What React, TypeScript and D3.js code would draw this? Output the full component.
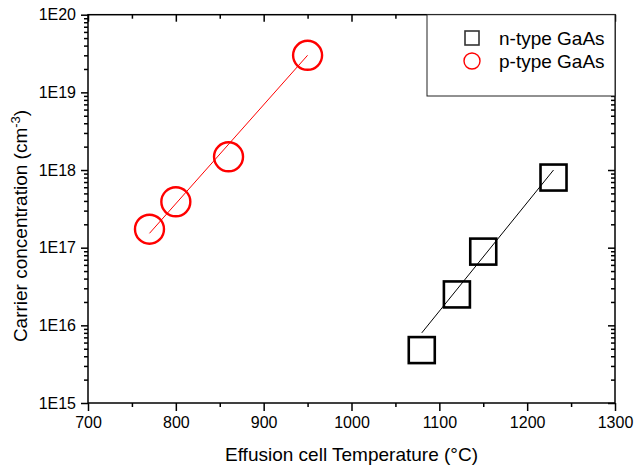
import React, { useRef, useEffect } from "react";
import * as d3 from "d3";

interface Point {
  t: number;
  c: number;
}

// readings from the picture
const nType: Point[] = [
  { t: 1080, c: 4.8e15 },
  { t: 1120, c: 2.5e16 },
  { t: 1150, c: 8.9e16 },
  { t: 1230, c: 8.0e17 },
];
const pType: Point[] = [
  { t: 770, c: 1.73e17 },
  { t: 800, c: 3.9e17 },
  { t: 860, c: 1.48e18 },
  { t: 950, c: 3.0e19 },
];
// end points of the linear fits
const nFit: Point[] = [
  { t: 1080, c: 8.0e15 },
  { t: 1230, c: 1.0e18 },
];
const pFit: Point[] = [
  { t: 770, c: 1.53e17 },
  { t: 950, c: 3.0e19 },
];

const xMajor = [700, 800, 900, 1000, 1100, 1200, 1300];
const xMinor = [750, 850, 950, 1050, 1150, 1250];
const yMajor = [1e15, 1e16, 1e17, 1e18, 1e19, 1e20];
const yLabels = ["1E15", "1E16", "1E17", "1E18", "1E19", "1E20"];
const legendNames = ["n-type GaAs", "p-type GaAs"];

const FONT = "'Liberation Sans', Arial, sans-serif";

export default function App() {
  const svgRef = useRef<SVGSVGElement>(null);
  const width = 635;
  const height = 467;
  const left = 88;
  const right = 615;
  const top = 14.7;
  const bottom = 403;

  useEffect(() => {
    const svg = d3.select(svgRef.current);
    svg.selectAll("*").remove();

    const x = d3.scaleLinear().domain([700, 1300]).range([left, right]);
    const y = d3.scaleLog().domain([1e15, 1e20]).range([bottom, top]);

    const yMinor: number[] = [];
    yMajor.slice(0, -1).forEach((d) => {
      for (let k = 2; k <= 9; k++) yMinor.push(d * k);
    });

    const styleAxis = (g: any) => {
      g.select(".domain").remove();
      g.selectAll(".tick line").attr("stroke", "#000").attr("stroke-width", 1.5);
      g.selectAll(".tick text")
        .attr("font-family", FONT)
        .attr("font-size", 16)
        .attr("fill", "#000");
    };

    // bottom
    svg.append("g")
      .attr("transform", `translate(0,${bottom})`)
      .call(d3.axisBottom(x).tickValues(xMajor).tickSize(8).tickPadding(6).tickFormat(d3.format("d")))
      .call(styleAxis);
    svg.append("g")
      .attr("transform", `translate(0,${bottom})`)
      .call(d3.axisBottom(x).tickValues(xMinor).tickSize(4).tickFormat(() => ""))
      .call(styleAxis);
    // top (inward)
    svg.append("g")
      .attr("transform", `translate(0,${top})`)
      .call(d3.axisTop(x).tickValues(xMajor).tickSize(-7).tickFormat(() => ""))
      .call(styleAxis);
    svg.append("g")
      .attr("transform", `translate(0,${top})`)
      .call(d3.axisTop(x).tickValues(xMinor).tickSize(-4).tickFormat(() => ""))
      .call(styleAxis);
    // left
    svg.append("g")
      .attr("transform", `translate(${left},0)`)
      .call(d3.axisLeft(y).tickValues(yMajor).tickSize(7).tickPadding(5)
        .tickFormat((d, i) => yLabels[i]))
      .call(styleAxis);
    svg.append("g")
      .attr("transform", `translate(${left},0)`)
      .call(d3.axisLeft(y).tickValues(yMinor).tickSize(4).tickFormat(() => ""))
      .call(styleAxis);
    // right (inward)
    svg.append("g")
      .attr("transform", `translate(${right},0)`)
      .call(d3.axisRight(y).tickValues(yMajor).tickSize(-7).tickFormat(() => ""))
      .call(styleAxis);
    svg.append("g")
      .attr("transform", `translate(${right},0)`)
      .call(d3.axisRight(y).tickValues(yMinor).tickSize(-4).tickFormat(() => ""))
      .call(styleAxis);

    // frame
    svg.append("rect")
      .attr("x", left)
      .attr("y", top)
      .attr("width", right - left)
      .attr("height", bottom - top)
      .attr("fill", "none")
      .attr("stroke", "#000")
      .attr("stroke-width", 1.5);

    const line = d3.line<Point>().x((d) => x(d.t)).y((d) => y(d.c));

    svg.append("path").datum(pFit).attr("d", line)
      .attr("fill", "none").attr("stroke", "#ff0000").attr("stroke-width", 1);
    svg.append("path").datum(nFit).attr("d", line)
      .attr("fill", "none").attr("stroke", "#000").attr("stroke-width", 1);

    svg.selectAll(".sq")
      .data(nType)
      .enter()
      .append("rect")
      .attr("x", (d) => x(d.t) - 13)
      .attr("y", (d) => y(d.c) - 13)
      .attr("width", 26)
      .attr("height", 26)
      .attr("fill", "none")
      .attr("stroke", "#000")
      .attr("stroke-width", 2.6);

    svg.selectAll(".ci")
      .data(pType)
      .enter()
      .append("circle")
      .attr("cx", (d) => x(d.t))
      .attr("cy", (d) => y(d.c))
      .attr("r", 14.5)
      .attr("fill", "none")
      .attr("stroke", "#ff0000")
      .attr("stroke-width", 2.4);

    // legend
    const lg = svg.append("g");
    lg.append("rect")
      .attr("x", 427)
      .attr("y", top)
      .attr("width", right - 427)
      .attr("height", 96 - top)
      .attr("fill", "#fff")
      .attr("stroke", "#222")
      .attr("stroke-width", 1);
    lg.append("rect")
      .attr("x", 465)
      .attr("y", 31)
      .attr("width", 14)
      .attr("height", 14)
      .attr("fill", "none")
      .attr("stroke", "#333")
      .attr("stroke-width", 1.6);
    lg.append("circle")
      .attr("cx", 472)
      .attr("cy", 61)
      .attr("r", 8)
      .attr("fill", "none")
      .attr("stroke", "#ff0000")
      .attr("stroke-width", 1.4);
    legendNames.forEach((name, i) => {
      lg.append("text")
        .attr("x", 499)
        .attr("y", 45 + i * 22.5)
        .attr("font-family", FONT)
        .attr("font-size", 19)
        .text(name);
    });

    // titles
    svg.append("text")
      .attr("x", (left + right) / 2)
      .attr("y", 461)
      .attr("text-anchor", "middle")
      .attr("font-family", FONT)
      .attr("font-size", 19)
      .text("Effusion cell Temperature (°C)");

    const yt = svg.append("text")
      .attr("transform", "translate(27,226) rotate(-90)")
      .attr("text-anchor", "middle")
      .attr("font-family", FONT)
      .attr("font-size", 19);
    yt.append("tspan").text("Carrier concentration (cm");
    yt.append("tspan").attr("dy", -7).attr("font-size", 13).text("-3");
    yt.append("tspan").attr("dy", 7).text(")");
  }, []);

  return (
    <svg
      ref={svgRef}
      width={width}
      height={height}
      style={{ position: "absolute", left: 0, top: 0, background: "#fff" }}
    ></svg>
  );
}
